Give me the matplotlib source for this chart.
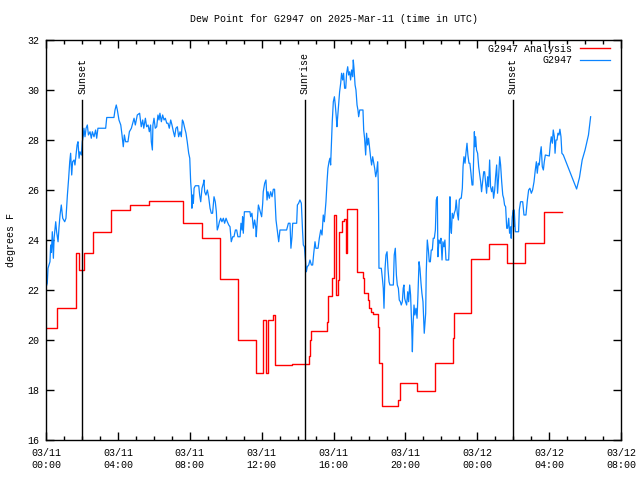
import pandas as pd
import matplotlib
matplotlib.use("Agg")
import matplotlib.pyplot as plt
import matplotlib.dates as mdates

plt.rcParams['font.family'] = ['Liberation Mono', 'DejaVu Sans Mono']

# hours after 2025-03-11 00:00 UTC
obs_hours = [
    0.00, 0.07, 0.11, 0.22, 0.26, 0.30, 0.35, 0.41, 0.45, 0.54, 0.59, 0.67, 0.72, 0.78, 0.85, 0.93,
    1.04, 1.11, 1.19, 1.26, 1.32, 1.37, 1.43, 1.48, 1.56, 1.61, 1.67, 1.73, 1.78, 1.84, 1.89, 1.97,
    2.02, 2.08, 2.11, 2.17, 2.23, 2.30, 2.36, 2.45, 2.52, 2.58, 2.67, 2.76, 2.82, 2.89, 3.32, 3.38,
    3.78, 3.84, 3.91, 3.97, 4.06, 4.16, 4.23, 4.27, 4.30, 4.36, 4.43, 4.56, 4.64, 4.75, 4.80, 4.90,
    4.97, 5.08, 5.21, 5.30, 5.38, 5.44, 5.53, 5.60, 5.68, 5.75, 5.82, 5.86, 5.92, 5.95, 6.01, 6.08,
    6.16, 6.23, 6.29, 6.34, 6.42, 6.49, 6.57, 6.64, 6.72, 6.79, 6.86, 6.94, 7.01, 7.09, 7.16, 7.23,
    7.31, 7.38, 7.46, 7.53, 7.59, 7.64, 7.72, 7.79, 7.86, 7.94, 8.00, 8.05, 8.09, 8.12, 8.16, 8.20,
    8.24, 8.31, 8.50, 8.55, 8.61, 8.68, 8.76, 8.79, 8.83, 8.90, 8.98, 9.05, 9.13, 9.20, 9.27, 9.35,
    9.42, 9.48, 9.53, 9.59, 9.65, 9.72, 9.79, 9.87, 9.94, 10.02, 10.09, 10.17, 10.24, 10.31, 10.39, 10.46,
    10.54, 10.61, 10.68, 10.80, 10.85, 10.91, 10.94, 10.98, 11.04, 11.35, 11.39, 11.46, 11.54, 11.61, 11.67, 11.70,
    11.76, 11.82, 11.87, 11.95, 12.00, 12.06, 12.09, 12.17, 12.24, 12.30, 12.35, 12.43, 12.50, 12.58, 12.65, 12.72,
    12.80, 12.87, 12.95, 13.02, 13.39, 13.49, 13.58, 13.63, 13.69, 13.73, 13.95, 13.99, 14.06, 14.13, 14.21, 14.25,
    14.28, 14.32, 14.38, 14.45, 14.49, 14.54, 14.62, 14.69, 14.77, 14.84, 14.90, 14.97, 15.02, 15.14, 15.21, 15.29,
    15.36, 15.43, 15.49, 15.58, 15.64, 15.69, 15.75, 15.80, 15.84, 15.88, 15.93, 15.99, 16.05, 16.10, 16.16, 16.19,
    16.25, 16.29, 16.34, 16.40, 16.45, 16.51, 16.56, 16.62, 16.68, 16.73, 16.79, 16.84, 16.90, 16.95, 17.01, 17.07,
    17.10, 17.14, 17.20, 17.25, 17.31, 17.36, 17.40, 17.46, 17.64, 17.68, 17.73, 17.79, 17.84, 17.90, 17.95, 18.01,
    18.07, 18.12, 18.18, 18.23, 18.29, 18.35, 18.40, 18.46, 18.49, 18.51, 18.53, 18.66, 18.72, 18.77, 18.81, 18.87,
    18.92, 18.98, 19.03, 19.09, 19.14, 19.33, 19.38, 19.44, 19.50, 19.55, 19.61, 19.66, 19.72, 19.77, 19.83, 19.88,
    19.92, 19.96, 20.01, 20.07, 20.13, 20.18, 20.24, 20.29, 20.35, 20.39, 20.42, 20.48, 20.53, 20.59, 20.65, 20.70,
    20.76, 20.81, 20.87, 20.92, 20.98, 21.02, 21.05, 21.09, 21.13, 21.16, 21.22, 21.28, 21.33, 21.39, 21.44, 21.50,
    21.55, 21.61, 21.67, 21.72, 21.78, 21.81, 21.87, 21.93, 21.98, 22.04, 22.09, 22.15, 22.20, 22.26, 22.41, 22.44,
    22.48, 22.52, 22.56, 22.61, 22.67, 22.72, 22.78, 22.83, 22.89, 22.95, 23.00, 23.06, 23.11, 23.17, 23.21, 23.26,
    23.32, 23.37, 23.43, 23.48, 23.54, 23.59, 23.65, 23.71, 23.76, 23.80, 23.84, 23.87, 23.91, 23.96, 24.02, 24.08,
    24.13, 24.19, 24.24, 24.30, 24.36, 24.41, 24.47, 24.52, 24.58, 24.63, 24.69, 24.74, 24.80, 24.86, 24.91, 24.97,
    25.02, 25.08, 25.13, 25.19, 25.25, 25.30, 25.36, 25.42, 25.47, 25.52, 25.58, 25.64, 25.69, 25.75, 25.80, 25.86,
    25.89, 25.95, 26.01, 26.03, 26.06, 26.12, 26.30, 26.34, 26.41, 26.53, 26.60, 26.71, 26.79, 26.86, 26.93, 27.01,
    27.08, 27.16, 27.23, 27.29, 27.34, 27.40, 27.45, 27.51, 27.56, 27.62, 27.68, 27.73, 27.79, 28.01, 28.07, 28.12,
    28.18, 28.23, 28.29, 28.33, 28.38, 28.44, 28.49, 28.55, 28.60, 28.66, 28.71, 28.79, 29.53, 29.69, 29.84, 30.00,
    30.19, 30.31,
]
obs_dewpt = [
    22.1, 22.27, 22.87, 23.13, 23.8, 23.5, 24.33, 23.27, 24.08, 24.73, 24.33, 23.93, 24.48, 25.0, 25.4, 24.87,
    24.73, 24.87, 25.8, 26.47, 27.13, 27.47, 26.6, 27.13, 27.2, 27.0, 27.4, 27.8, 27.93, 27.27, 27.53, 27.4,
    27.93, 28.2, 28.47, 28.13, 28.47, 28.6, 28.2, 28.33, 28.07, 28.33, 28.13, 28.4, 28.07, 28.47, 28.47, 28.9,
    28.9, 29.2, 29.4, 29.2, 28.8, 28.6, 28.2, 27.93, 27.73, 28.2, 27.93, 27.93, 28.33, 28.47, 28.6, 28.87,
    28.6, 29.0, 29.07, 28.53, 28.8, 28.47, 28.87, 28.53, 28.6, 28.33, 28.6, 27.93, 27.6, 28.6, 28.87, 28.47,
    28.53, 29.0, 28.8, 29.07, 28.73, 29.0, 28.8, 28.87, 28.67, 28.67, 28.47, 28.8, 28.6, 28.33, 28.13, 28.47,
    28.53, 28.13, 28.33, 28.13, 28.8, 28.73, 28.47, 28.27, 27.93, 27.47, 27.27, 26.33, 25.93, 25.27, 25.8, 25.47,
    26.07, 26.17, 26.17, 25.8, 25.53, 26.07, 26.27, 26.4, 25.93, 25.8, 26.0, 25.73, 25.27, 25.07, 25.07, 25.73,
    25.53, 25.13, 24.4, 24.53, 24.73, 24.87, 24.73, 24.87, 24.67, 24.87, 24.73, 24.6, 24.53, 23.93, 24.13, 24.13,
    24.4, 24.4, 24.13, 24.13, 24.67, 24.4, 24.93, 24.27, 25.13, 25.13, 24.93, 25.07, 24.47, 24.8, 24.53, 24.13,
    24.8, 25.4, 25.27, 25.07, 24.93, 25.47, 25.93, 26.27, 26.4, 25.6, 25.93, 25.67, 25.93, 25.73, 26.03, 26.03,
    24.8, 24.4, 23.93, 24.4, 24.4, 24.67, 24.67, 23.67, 24.13, 24.67, 24.67, 25.4, 25.47, 25.6, 25.47, 24.8,
    24.33, 23.8, 23.73, 23.07, 22.73, 22.93, 23.0, 23.2, 23.0, 23.0, 23.47, 23.93, 23.67, 23.67, 24.07, 24.4,
    24.2, 25.0, 24.73, 25.53, 26.33, 26.87, 27.13, 27.27, 27.0, 27.8, 28.73, 29.53, 29.73, 29.4, 28.87, 28.53,
    29.07, 29.4, 29.93, 30.27, 30.67, 30.4, 30.67, 30.07, 30.07, 30.67, 30.93, 30.6, 30.73, 30.4, 30.8, 30.53,
    31.2, 30.87, 30.2, 30.0, 29.4, 29.2, 28.93, 29.2, 29.2, 28.4, 28.07, 27.4, 28.27, 27.8, 28.07, 27.67,
    27.27, 27.0, 27.33, 27.13, 26.87, 26.53, 26.73, 27.13, 26.33, 25.0, 22.87, 22.87, 22.47, 22.07, 21.27, 22.87,
    23.4, 23.53, 22.87, 22.33, 22.2, 22.2, 23.4, 23.67, 22.6, 22.2, 22.07, 21.6, 21.53, 21.4, 21.53, 22.07,
    22.2, 21.67, 21.53, 21.4, 21.93, 21.53, 22.2, 21.8, 20.6, 19.53, 20.47, 21.4, 21.0, 21.27, 20.87, 21.8,
    23.13, 22.87, 22.27, 21.87, 21.53, 20.8, 20.27, 20.67, 21.07, 22.67, 24.0, 23.6, 23.13, 23.13, 23.6, 23.6,
    24.07, 24.07, 24.4, 25.6, 25.73, 23.33, 24.0, 23.87, 24.07, 23.2, 23.93, 23.73, 24.0, 23.2, 23.2, 23.8,
    25.73, 24.53, 24.27, 25.07, 24.87, 25.07, 25.2, 25.6, 25.07, 24.8, 25.6, 25.67, 25.67, 26.07, 26.93, 27.33,
    27.07, 27.47, 27.87, 27.4, 27.07, 27.07, 26.67, 26.2, 26.2, 27.33, 28.33, 27.73, 28.13, 27.6, 27.47, 26.93,
    26.67, 26.33, 25.93, 26.33, 26.73, 26.73, 26.27, 25.87, 26.53, 26.13, 27.2, 26.13, 25.93, 26.13, 25.67, 26.0,
    26.53, 27.0, 25.87, 26.53, 27.33, 27.0, 26.33, 25.8, 25.67, 25.4, 25.33, 24.47, 24.47, 24.87, 24.27, 24.53,
    24.07, 24.93, 25.2, 24.53, 25.2, 24.33, 24.33, 25.2, 25.53, 25.53, 25.0, 25.0, 25.6, 26.0, 26.07, 25.87,
    26.0, 26.33, 26.8, 27.13, 26.67, 27.07, 27.0, 27.47, 27.73, 26.93, 26.8, 27.13, 27.4, 27.36, 27.87, 28.13,
    27.87, 28.4, 28.13, 27.47, 28.0, 28.0, 28.27, 28.2, 28.43, 28.13, 27.47, 27.4, 26.04, 26.5, 27.2, 27.6,
    28.2, 28.93,
]

# analysis (step changes)
ana_hours = [
    0.00, 0.60, 1.65, 1.82, 2.13, 2.63, 3.63, 4.67, 5.73, 7.61, 8.66, 9.68, 10.70, 11.67, 12.05, 12.27,
    12.34, 12.62, 12.74, 13.71, 14.62, 14.67, 14.73, 15.62, 15.69, 15.90, 16.05, 16.14, 16.25, 16.30, 16.47, 16.58,
    16.67, 16.70, 16.77, 17.29, 17.62, 17.71, 17.90, 17.99, 18.09, 18.18, 18.46, 18.55, 18.68, 18.71, 19.60, 19.70,
    20.66, 21.67, 22.67, 22.72, 23.63, 24.64, 25.64, 26.66, 27.71, 28.70,
]
ana_dewpt = [
    20.5, 21.3, 23.5, 22.8, 23.5, 24.3, 25.2, 25.4, 25.55, 24.67, 24.07, 22.43, 20.0, 18.67, 20.8, 18.67,
    20.8, 21.0, 19.0, 19.03, 19.36, 20.0, 20.36, 20.73, 21.76, 22.5, 25.0, 21.8, 22.4, 24.3, 24.75, 24.85,
    24.4, 23.5, 25.23, 22.73, 22.5, 21.9, 21.6, 21.27, 21.13, 21.04, 20.53, 19.07, 18.23, 17.36, 17.6, 18.27,
    17.96, 19.1, 20.1, 21.1, 23.23, 23.83, 23.1, 23.9, 25.1, 25.1,
]

sun_hours = [2.02, 14.41, 25.99]
sun_labels = ['Sunset', 'Sunrise', 'Sunset']

base = pd.Timestamp('2025-03-11 00:00')
obs_t = base + pd.to_timedelta(obs_hours, unit='h')
ana_t = base + pd.to_timedelta(ana_hours, unit='h')
sun_t = base + pd.to_timedelta(sun_hours, unit='h')

fig = plt.figure(figsize=(6.4, 4.8), dpi=100)
ax = fig.add_axes([0.0719, 0.0833, 0.8984, 0.8334])

ax.plot(ana_t, ana_dewpt, color='#ff0000', lw=1.0, drawstyle='steps-post', label='G2947 Analysis')
ax.plot(obs_t, obs_dewpt, color='#0a84ff', lw=0.9, label='G2947')

for t, lab in zip(sun_t, sun_labels):
    ax.plot([t, t], [16, 29.6], color='black', lw=1.0)
    ax.text(t, 29.85, lab, rotation=90, ha='center', va='bottom', fontsize=7.2)

ax.set_xlim(base, base + pd.Timedelta(hours=32))
ax.set_ylim(16, 32)
ax.set_yticks(range(16, 33, 2))
ax.xaxis.set_major_locator(mdates.HourLocator(byhour=[0, 4, 8, 12, 16, 20]))
ax.xaxis.set_minor_locator(mdates.HourLocator())
ax.xaxis.set_major_formatter(mdates.DateFormatter('%m/%d\n%H:%M'))

ax.tick_params(which='both', direction='in', top=True, right=True, labelsize=7.2, width=1.0)
ax.tick_params(which='major', length=6, pad=6)
ax.tick_params(which='minor', length=3)
ax.tick_params(axis='y', pad=5)
for s in ax.spines.values():
    s.set_linewidth(1.0)

ax.set_title('Dew Point for G2947 on 2025-Mar-11 (time in UTC)', fontsize=7.2, pad=13)
ax.set_ylabel('degrees F', fontsize=7.2, labelpad=8)

ax.legend(loc='upper right', bbox_to_anchor=(0.988, 1.0), frameon=False, markerfirst=False,
          fontsize=7.2, handlelength=3.0, handletextpad=0.8, labelspacing=0.15, borderaxespad=0.0)

plt.savefig('out.png', dpi=100)
